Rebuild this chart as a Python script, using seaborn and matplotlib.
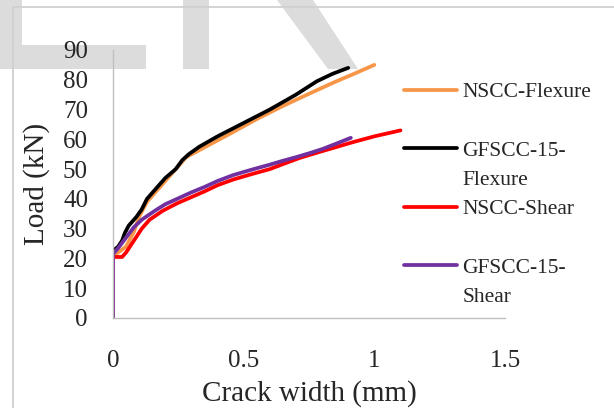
import matplotlib
matplotlib.use("Agg")
import matplotlib.pyplot as plt
from matplotlib.lines import Line2D
from matplotlib.patches import Polygon
from matplotlib.ticker import FuncFormatter
import numpy as np
import pandas as pd
import seaborn as sns

# ---- data ----
series_names = ["NSCC-Flexure", "GFSCC-15-Flexure", "NSCC-Shear", "GFSCC-15-Shear"]
series_colors = ["#F79646", "#000000", "#FF0000", "#7030A0"]

nscc_flex_x = [0, 0, 0.02, 0.05, 0.08, 0.10, 0.13, 0.17, 0.22, 0.28, 0.35, 0.45,
               0.55, 0.65, 0.75, 0.85, 0.93, 1.0]
nscc_flex_y = [0, 21, 22, 24, 29, 34, 39, 43, 48, 54, 57.3, 62,
               66.8, 71.2, 75.3, 79.3, 82.3, 85]

gf_flex_x = [0, 0, 0.02, 0.035, 0.045, 0.06, 0.09, 0.11, 0.13, 0.17, 0.20, 0.24,
             0.265, 0.29, 0.33, 0.40, 0.50, 0.60, 0.70, 0.78, 0.84, 0.90]
gf_flex_y = [0, 22.5, 24, 26, 28.5, 31, 34, 36.5, 40, 44, 47, 50,
             53, 55, 57.5, 61, 65.5, 70, 75, 79.5, 82, 84]

nscc_shear_x = [0, 0, 0.035, 0.05, 0.08, 0.11, 0.14, 0.19, 0.245, 0.30, 0.35,
                0.40, 0.46, 0.53, 0.60, 0.66, 0.716, 0.78, 0.85, 0.92, 1.0, 1.05, 1.1]
nscc_shear_y = [0, 20.5, 20.5, 22, 26, 30, 33, 36, 38.5, 40.6, 42.5,
                44.6, 46.5, 48.3, 50, 52, 53.8, 55.5, 57.3, 59.1, 61, 62, 63]

gf_shear_x = [0, 0, 0.02, 0.05, 0.08, 0.11, 0.16, 0.20, 0.245, 0.30, 0.35, 0.40,
              0.46, 0.53, 0.60, 0.65, 0.70, 0.75, 0.80, 0.85, 0.91]
gf_shear_y = [0, 21.5, 23.5, 27, 30.5, 33, 36, 38.2, 40, 42.2, 44, 46,
              48, 49.8, 51.5, 52.8, 54, 55.3, 56.7, 58.4, 60.5]

x_ticks = [0, 0.5, 1, 1.5]
y_ticks = [0, 10, 20, 30, 40, 50, 60, 70, 80, 90]
x_label = "Crack width (mm)"
y_label = "Load (kN)"
legend_rows = ["NSCC-Flexure", " ", "GFSCC-15-", "Flexure",
               "NSCC-Shear", " ", "GFSCC-15-", "Shear"]

frames = []
for name, xs, ys in zip(series_names,
                        [nscc_flex_x, gf_flex_x, nscc_shear_x, gf_shear_x],
                        [nscc_flex_y, gf_flex_y, nscc_shear_y, gf_shear_y]):
    frames.append(pd.DataFrame({"x": xs, "y": ys, "series": name}))
df = pd.concat(frames, ignore_index=True)

# ---- style ----
sns.set_style("white")
plt.rcParams["font.family"] = ["Liberation Serif", "DejaVu Serif"]

W, H = 614, 408
fig = plt.figure(figsize=(W / 100, H / 100), dpi=100)
fig.patch.set_facecolor("white")

def fx(px):
    return px / W

def fy(py):
    return 1 - py / H

# background watermark shapes (light gray) and frame
wm = "#DCDCDC"
shapes = [
    [(0, 0), (22, 0), (22, 45), (146, 45), (146, 69), (0, 69)],
    [(183, 0), (209, 0), (209, 69), (183, 69)],
    [(277, 0), (313, 0), (358, 69), (328, 69)],
]
for s in shapes:
    fig.add_artist(Polygon([(fx(a), fy(b)) for a, b in s], closed=True,
                           transform=fig.transFigure, facecolor=wm,
                           edgecolor="none", zorder=-2))
fig.add_artist(Line2D([fx(13), 1], [fy(6.5), fy(6.5)], transform=fig.transFigure,
                      color="#D0D0D0", lw=1.3, zorder=-1))
fig.add_artist(Line2D([fx(13), fx(13)], [0, fy(6.5)], transform=fig.transFigure,
                      color="#D0D0D0", lw=1.3, zorder=-1))

ax = fig.add_axes([fx(113), fy(318), fx(505) - fx(113), fy(50) - fy(318)])
ax.set_facecolor("none")

sns.lineplot(data=df, x="x", y="y", hue="series", hue_order=series_names,
             palette=series_colors, sort=False, estimator=None,
             lw=2.7, legend=False, ax=ax)

ax.set_xlim(0, 1.5)
ax.set_ylim(0, 90)
ax.set_xticks(x_ticks)
ax.set_yticks(y_ticks)
ax.xaxis.set_major_formatter(FuncFormatter(lambda v, p: f"{v:g}"))
ax.tick_params(axis="both", length=0, labelsize=18)
ax.tick_params(axis="y", pad=18)
ax.tick_params(axis="x", pad=23)

for side in ["top", "right"]:
    ax.spines[side].set_visible(False)
for side in ["left", "bottom"]:
    ax.spines[side].set_color("#BFBFBF")
    ax.spines[side].set_linewidth(1.0)

ax.set_xlabel(x_label, fontsize=21)
ax.set_ylabel(y_label, fontsize=21)
ax.xaxis.set_label_coords(0.5, (318 - 380) / 268)
ax.yaxis.set_label_coords((50 - 113) / 392, 0.5)

handles = []
color_iter = iter(series_colors)
for lab in legend_rows:
    if lab in ("NSCC-Flexure", "NSCC-Shear", "GFSCC-15-"):
        handles.append(Line2D([], [], color=next(color_iter), lw=2.7))
    else:
        handles.append(Line2D([], [], color="none", lw=2.7))

fig.legend(handles, legend_rows, loc="upper left",
           bbox_to_anchor=(fx(404), fy(82)), frameon=False, fontsize=15.5,
           handlelength=2.45, handletextpad=0.25, labelspacing=0.43,
           borderpad=0, borderaxespad=0)

fig.savefig("out.png", dpi=100)
